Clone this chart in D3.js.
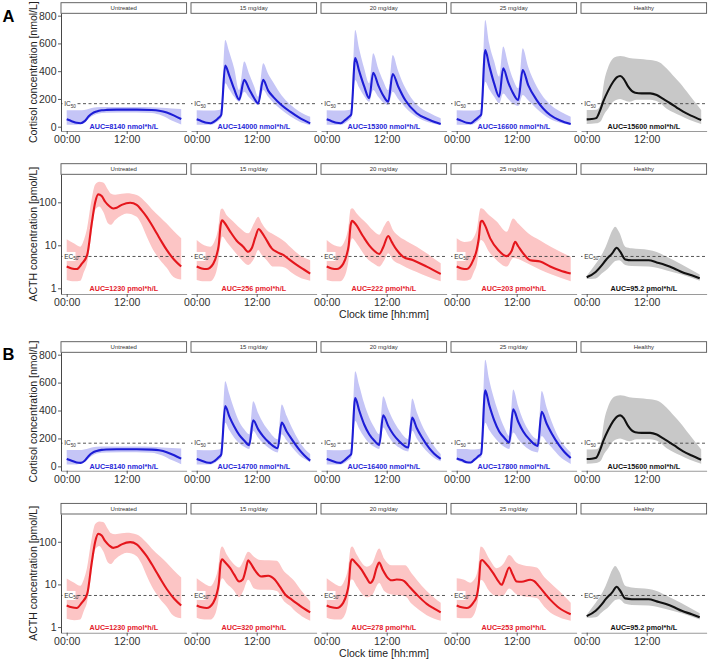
<!DOCTYPE html>
<html><head><meta charset="utf-8">
<script src="https://cdn.jsdelivr.net/npm/d3@7"></script>
<style>html,body{margin:0;padding:0;background:#fff}svg{display:block}</style>
</head><body><svg id="c" width="709" height="661"></svg>
<script>
// ---------------- DATA ----------------
const categories = ["Untreated", "15 mg/day", "20 mg/day", "25 mg/day", "Healthy"];
const xTicks = [0, 12];
const xTickLabels = ["00:00", "12:00"];
const cortTicks = [0, 200, 400, 600, 800];
const acthTicks = [1, 10, 100];
const IC50 = 166;
const EC50 = 5.5;
const aucCortA = ["AUC=8140 nmol*h/L", "AUC=14000 nmol*h/L", "AUC=15300 nmol*h/L", "AUC=16600 nmol*h/L", "AUC=15600 nmol*h/L"];
const aucActhA = ["AUC=1230 pmol*h/L", "AUC=256 pmol*h/L", "AUC=222 pmol*h/L", "AUC=203 pmol*h/L", "AUC=95.2 pmol*h/L"];
const aucCortB = ["AUC=8140 nmol*h/L", "AUC=14700 nmol*h/L", "AUC=16400 nmol*h/L", "AUC=17800 nmol*h/L", "AUC=15600 nmol*h/L"];
const aucActhB = ["AUC=1230 pmol*h/L", "AUC=320 pmol*h/L", "AUC=278 pmol*h/L", "AUC=253 pmol*h/L", "AUC=95.2 pmol*h/L"];

// Cortisol [nmol/L]: line [t, median], band [t, lower, upper]
const cortUntreatedLine = [[0,53],[1,40],[2,28],[2.8,25],[3.6,40],[4.4,75],[5.2,98],[6,110],[7,118],[8,121],[10,123],[14,123],[17,120],[18.5,115],[20,102],[21.5,80],[22.9,55]];
const cortUntreatedBand = [[0,14,118],[2,14,118],[3,22,118],[4,45,124],[5,75,135],[6,92,140],[8,100,142],[14,102,142],[17,98,140],[19,80,136],[21,45,132],[22.9,16,128]];
const cortA15Line = [[0,53],[1,40],[2,28],[2.8,25],[3.6,40],[4.4,65],[4.9,85],[5.7,440],[6.5,370],[7.5,270],[8.5,195],[9.5,337],[10.5,270],[11.5,205],[12.3,168],[13.3,337],[14.3,260],[15.3,215],[17,155],[18.7,108],[20.5,65],[22.7,24]];
const cortA15Band = [[0,14,118],[2.8,14,116],[4.4,45,120],[4.9,60,130],[5.7,313,625],[6.5,270,540],[7.5,215,420],[8.5,180,264],[9.5,252,469],[10.5,210,380],[11.5,175,290],[12.3,156,216],[13.3,265,457],[14.3,215,380],[15.3,175,320],[17,120,225],[18.7,75,160],[20.5,38,110],[22.7,12,72]];
const cortA20Line = [[0,53],[1,40],[2,28],[2.8,25],[3.6,45],[4.4,70],[4.9,88],[5.7,495],[6.5,400],[7.5,290],[8.5,205],[9.3,389],[10.3,300],[11.3,225],[12.3,180],[13.2,380],[14.3,290],[15.7,192],[18,97],[20.5,50],[22.8,19]];
const cortA20Band = [[0,14,118],[2.8,14,116],[4.4,45,120],[4.9,60,130],[5.7,337,697],[6.5,280,560],[7.5,220,420],[8.5,180,313],[9.3,264,529],[10.3,215,420],[11.3,175,330],[12.3,156,264],[13.2,252,517],[14.3,200,400],[15.7,140,280],[18,70,160],[20.5,30,100],[22.8,12,60]];
const cortA25Line = [[0,55],[1,42],[2,28],[2.8,25],[3.6,45],[4.4,70],[4.9,88],[5.7,553],[6.5,440],[7.5,310],[8.5,216],[9.3,421],[10.3,320],[11.3,240],[12.3,192],[13.2,409],[14.3,300],[16,192],[18.7,84],[20.7,45],[22.8,19]];
const cortA25Band = [[0,14,118],[2.8,14,116],[4.4,45,120],[4.9,60,130],[5.7,324,769],[6.5,270,600],[7.5,215,470],[8.5,169,360],[9.3,240,577],[10.3,200,450],[11.3,165,340],[12.3,150,277],[13.2,228,565],[14.3,190,430],[16,130,290],[18.7,55,160],[20.7,28,110],[22.8,12,72]];
const cortB15Line = [[0,53],[1,40],[2,28],[2.8,25],[3.6,40],[4.4,65],[4.9,85],[5.7,432],[6.5,360],[7.5,285],[8.5,225],[9.5,185],[10.5,152],[11.3,330],[12.3,265],[13.3,215],[14.5,170],[16.2,131],[17,313],[18,250],[19,195],[20.5,120],[21.5,80],[22.7,41]];
const cortB15Band = [[0,14,118],[2.8,14,116],[4.4,45,120],[4.9,60,130],[5.7,313,610],[6.5,260,520],[7.5,205,410],[8.5,165,320],[9.5,140,265],[10.5,124,230],[11.3,254,467],[12.3,205,380],[13.3,165,310],[14.5,130,250],[16.2,100,195],[17,230,444],[18,185,360],[19,140,280],[20.5,80,180],[21.5,55,130],[22.7,30,88]];
const cortB20Line = [[0,53],[1,40],[2,28],[2.8,25],[3.6,45],[4.4,70],[4.9,88],[5.7,490],[6.5,400],[7.5,300],[8.5,230],[9.5,185],[10.5,154],[11.3,366],[12.3,290],[13.3,230],[14.5,180],[16.3,135],[17.1,349],[18,275],[19,210],[20.5,130],[21.5,90],[22.8,53]];
const cortB20Band = [[0,14,118],[2.8,14,116],[4.4,45,120],[4.9,60,130],[5.7,325,681],[6.5,270,580],[7.5,210,450],[8.5,165,350],[9.5,140,280],[10.5,124,230],[11.3,278,503],[12.3,220,410],[13.3,170,330],[14.5,135,260],[16.3,107,195],[17.1,255,487],[18,200,390],[19,150,300],[20.5,90,200],[21.5,60,145],[22.8,36,88]];
const cortB25Line = [[0,57],[1,45],[2,30],[2.8,28],[3.6,50],[4.4,75],[4.9,90],[5.7,544],[6.5,440],[7.5,330],[8.5,250],[9.5,205],[10.5,171],[11.3,408],[12.3,320],[13.3,250],[14.5,195],[16.2,147],[17,391],[18,305],[19,235],[20.5,150],[21.5,105],[22.8,60]];
const cortB25Band = [[0,45,124],[2,21,124],[2.8,21,120],[4.4,60,124],[4.9,64,130],[5.7,313,764],[6.5,260,620],[7.5,210,480],[8.5,170,370],[9.5,140,280],[10.5,124,218],[11.3,242,551],[12.3,195,430],[13.3,155,330],[14.5,120,250],[16.2,100,195],[17,218,540],[18,175,420],[19,135,320],[20.5,75,200],[21.5,45,150],[22.8,17,100]];
const cortHealthyLine = [[0,53],[1,55],[1.9,62],[2.7,120],[3.3,180],[4.3,260],[5.3,324],[6,355],[6.7,365],[7.4,345],[8.3,288],[9,258],[9.7,245],[11,240],[12.7,240],[14,228],[15.3,200],[16.7,169],[18,138],[19.3,108],[21,78],[22.9,48]];
const cortHealthyBand = [[0,19,120],[1.9,24,122],[2.8,40,160],[3.5,90,330],[4.2,125,420],[5,170,480],[6,195,505],[6.7,200,510],[7.5,190,505],[8.5,180,495],[10,195,490],[12.7,195,480],[14.5,175,465],[16,130,420],[17.5,100,360],[18.7,80,313],[20.5,50,230],[22.9,19,120]];

// ACTH [pmol/L]
const acthUntreatedLine = [[0,3.2],[1,2.9],[2,2.8],[3,3.7],[4.1,6],[5,32],[5.7,100],[6.3,153],[7,140],[7.7,103],[8.5,82],[9.3,72],[10,75],[11,87],[12.7,98],[14,87],[15,65],[16,46],[17,30],[18,19],[19,12],[20,7.8],[21.5,4.6],[22.9,3.2]];
const acthUntreatedBand = [[0,1.56,13.8],[1.5,1.45,11],[2.7,1.5,9.3],[3.5,2.5,14],[4,3.5,22.6],[5,20,120],[5.7,66,260],[6.5,80,300],[7.3,60,290],[8.3,32,193],[8.8,30,160],[9.7,39,150],[11,50,158],[12,55,162],[14,46,148],[15,30,125],[16,16,95],[17,9,70],[18.7,4.5,45],[20,3,32],[21.3,1.86,22],[22.9,1.6,14.5]];
const acthA15Line = [[0,3.2],[1,2.9],[2,2.8],[3.3,3.7],[4,6],[4.4,10],[4.8,30],[5.1,38],[5.6,33],[6.7,20.8],[8,12.8],[9.3,9.3],[10.3,7.1],[11,8.5],[11.7,15],[12.4,24],[13,20],[13.7,15],[15,8.5],[16,7],[17.3,6],[18.5,4.7],[20,3.5],[21.5,2.7],[22.7,2.2]];
const acthA15Band = [[0,1.56,13.3],[1.5,1.45,10],[2.7,1.45,9.3],[3.5,1.8,12],[4.3,4,25],[4.8,12,68],[5.1,16,72],[6,12,50],[7.3,7.8,36],[8.7,5,25],[10.3,3.5,19],[11.5,5,33],[12.3,7.8,46],[13,6,33],[14,4.5,22.6],[15.3,3.2,18],[16.5,3.2,15],[17.7,3,12],[19,2.3,8.5],[20.5,1.8,6],[22.7,1.5,4.5]];
const acthA20Line = [[0,3.2],[1,2.9],[2,2.8],[3.3,3.7],[4,6],[4.4,10],[4.8,30],[5.1,37],[5.6,33],[7.3,16],[8.5,10],[9.5,7.5],[10.5,6.3],[11.3,9],[12.3,16.5],[13,12],[14,7.8],[15.3,5.4],[17.3,4.5],[20,3.2],[22.8,2.15]];
const acthA20Band = [[0,1.56,13.3],[1.5,1.45,10],[2.7,1.45,9.3],[3.5,1.8,12],[4.3,4,25],[4.8,12,70],[5.1,14.5,73],[6,11,55],[8,5.1,32],[9.3,3.8,22],[10.5,3.2,17.5],[11.5,4.5,28],[12.3,6.5,37],[13.3,4.5,22],[14.5,3.7,16],[16,3,12.5],[18,2.4,9.3],[20,1.9,6.5],[22.8,1.45,3.8]];
const acthA25Line = [[0,3.2],[1,2.9],[2,2.8],[3.3,4.5],[4,7.8],[4.4,14],[4.8,35],[5.1,37],[5.6,30],[6.7,14.5],[8.3,7.8],[10,5.6],[11,7.5],[11.7,12],[12.3,9.5],[13.3,6.5],[14.7,4.5],[16.7,4.2],[18.7,3.2],[20.7,2.6],[22.8,2.2]];
const acthA25Band = [[0,1.56,14.5],[1.5,1.5,12],[2.7,1.6,12.5],[3.5,2.5,16],[4,3.5,22.6],[4.8,13.3,73],[5.1,13,72],[6.5,7,50],[8,4.5,36],[10,3.2,20.8],[11.3,5.1,42],[12.3,4.8,32],[14.3,3.7,19],[16.7,2.7,12.9],[19,2.1,9],[22.8,1.45,5.4]];
const acthB15Line = [[0,3.2],[1,2.9],[2,2.8],[3.3,3.7],[4,6],[4.4,10],[4.8,32],[5.1,39],[5.6,34],[6.7,24],[7.5,17],[8.5,11.7],[9.2,13],[9.8,22],[10.3,37],[10.8,31],[11.7,21],[12.9,15.3],[14.3,16],[15.6,13],[16.6,9],[17.7,5.8],[19,4.4],[20.3,3.4],[21.5,2.7],[22.7,2.2]];
const acthB15Band = [[0,1.65,14],[1.5,1.5,10.5],[2.7,1.5,9],[3.5,1.8,12],[4.3,4,25],[4.8,12,70],[5.1,14,77],[6,10.5,50],[7.3,7.5,31],[8.5,5,25],[9.3,7,35],[10.3,12.9,58],[11.5,8,44],[12.7,7.5,37.5],[14.5,7.5,37],[16,7,36],[17.5,4,20],[18.7,3.1,15],[19.3,2.6,12.9],[21,1.8,7],[22.7,1.4,4]];
const acthB20Line = [[0,3.2],[1,2.9],[2,2.8],[3.3,3.7],[4,6],[4.4,10],[4.8,33],[5.1,39],[5.6,34],[7,22],[8,14],[8.7,10.8],[9.3,13],[10,25],[10.5,32.5],[11.2,22],[12,15.3],[13,12.5],[14,13],[14.7,12.9],[15.5,12],[16.3,9.5],[18,5.8],[20,3.5],[21.5,2.7],[22.8,2.2]];
const acthB20Band = [[0,1.65,14],[1.5,1.5,10.5],[2.7,1.5,9],[3.5,1.8,12],[4.3,4,25],[4.8,12.9,72],[5.1,13,77],[6,9,50],[8,5,26],[9,5.5,30],[10.5,10.8,70],[11.5,7,40],[13,5.8,28],[15.7,5.3,28],[17,3.5,18],[18,2.8,12.9],[20,1.9,7],[22.8,1.4,3.7]];
const acthB25Line = [[0,3.2],[1,2.9],[2,2.8],[3.3,3.7],[4,5.3],[4.4,10],[4.8,35],[5.1,37.5],[5.6,33],[7.3,18.4],[8.2,12.5],[9,9.8],[9.6,14],[10.5,25],[11.2,17],[12,11.7],[13,11.5],[14.7,12.9],[15.5,12],[16.3,9.5],[18.7,4.4],[20.5,2.8],[22.8,2.0]];
const acthB25Band = [[0,1.65,14],[1.5,1.6,12.9],[2.7,1.6,11],[3.5,2,13],[4.3,4.5,25],[4.8,12.9,77],[5.1,12.5,75],[6.5,7,40],[8,5.3,24],[9.3,5.5,30],[10.5,8,49],[12,5.8,32],[13.3,5.3,28],[16,4.8,25],[17.5,3,15],[18.7,2.2,11],[20.5,1.7,7],[22.8,1.4,3.7]];
const acthHealthyLine = [[0,1.8],[1.8,2.4],[3,3.4],[3.8,4.5],[5.1,6.5],[6,8.8],[6.7,7.1],[7.7,4.7],[9,4.5],[12.4,4.5],[14,4],[15.7,3.5],[17.5,2.9],[19,2.4],[21,2],[22.6,1.7]];
const acthHealthyBand = [[0,1.65,1.95],[1.8,1.7,3.7],[3,2.2,6],[3.8,2.6,9.3],[4.4,3,14],[5.1,3.7,22],[5.7,4.3,27],[6.5,4.5,20],[7.7,3.5,9.3],[9,3.3,8.5],[12.4,3.2,7.8],[14,3,7],[16,2.6,5.4],[19,2.1,3.6],[22.6,1.5,2.1]];

// ---------------- LAYOUT ----------------
const FONT = "'Liberation Sans', Arial, Helvetica, sans-serif";
const panelLeft0 = 61, panelStep = 130, panelW = 125.6;
const stripH = 10.6;
const blue = {line: "#1d1dd6", band: "#c5c5f6", text: "#2525d8"};
const red = {line: "#e4161c", band: "#fcc5c5", text: "#e4202a"};
const black = {line: "#111111", band: "#c8c8c8", text: "#111111"};

const rows = [
  {kind: "cort", top: 13.3, bottom: 131, title: "Cortisol concentration [nmol/L]",
   lines: [cortUntreatedLine, cortA15Line, cortA20Line, cortA25Line, cortHealthyLine],
   bands: [cortUntreatedBand, cortA15Band, cortA20Band, cortA25Band, cortHealthyBand], auc: aucCortA, tag: "A"},
  {kind: "acth", top: 174.3, bottom: 294, title: "ACTH concentration [pmol/L]",
   lines: [acthUntreatedLine, acthA15Line, acthA20Line, acthA25Line, acthHealthyLine],
   bands: [acthUntreatedBand, acthA15Band, acthA20Band, acthA25Band, acthHealthyBand], auc: aucActhA, xtitle: true},
  {kind: "cort", top: 352.3, bottom: 470.7, title: "Cortisol concentration [nmol/L]",
   lines: [cortUntreatedLine, cortB15Line, cortB20Line, cortB25Line, cortHealthyLine],
   bands: [cortUntreatedBand, cortB15Band, cortB20Band, cortB25Band, cortHealthyBand], auc: aucCortB, tag: "B"},
  {kind: "acth", top: 514, bottom: 632.7, title: "ACTH concentration [pmol/L]",
   lines: [acthUntreatedLine, acthB15Line, acthB20Line, acthB25Line, acthHealthyLine],
   bands: [acthUntreatedBand, acthB15Band, acthB20Band, acthB25Band, acthHealthyBand], auc: aucActhB, xtitle: true}
];

const svg = d3.select("#c");
const defs = svg.append("defs");
let clipId = 0;

rows.forEach((row, ri) => {
  const y = row.kind === "cort"
    ? d3.scaleLinear().domain([-31, 817]).range([row.bottom, row.top])
    : d3.scaleLog().domain([0.737, 448]).range([row.bottom, row.top]);
  const thr = row.kind === "cort" ? IC50 : EC50;
  const thrLabel = row.kind === "cort" ? "IC" : "EC";

  categories.forEach((cat, ci) => {
    const left = panelLeft0 + ci * panelStep;
    const x = d3.scaleLinear().domain([-1.14, 23.98]).range([left, left + panelW]);
    const col = ci === 4 ? black : (row.kind === "cort" ? blue : red);
    const g = svg.append("g");

    // strip
    g.append("rect").attr("x", left).attr("y", row.top - stripH).attr("width", panelW).attr("height", stripH)
      .attr("fill", "#fff").attr("stroke", "#555").attr("stroke-width", 0.9);
    g.append("text").attr("x", left + panelW / 2).attr("y", row.top - stripH / 2).attr("dy", "0.35em")
      .attr("text-anchor", "middle").attr("font-family", FONT).attr("font-size", 6).attr("fill", "#333").text(cat);

    const id = "clip" + (clipId++);
    defs.append("clipPath").attr("id", id).append("rect")
      .attr("x", left).attr("y", row.top).attr("width", panelW).attr("height", row.bottom - row.top);
    const pg = g.append("g").attr("clip-path", `url(#${id})`);

    const area = d3.area().x(d => x(d[0])).y0(d => y(d[1])).y1(d => y(d[2])).curve(d3.curveMonotoneX);
    pg.append("path").datum(row.bands[ci]).attr("d", area).attr("fill", col.band);

    pg.append("line").attr("x1", left).attr("x2", left + panelW).attr("y1", y(thr)).attr("y2", y(thr))
      .attr("stroke", "#444").attr("stroke-width", 0.9).attr("stroke-dasharray", "3,2.5");

    const line = d3.line().x(d => x(d[0])).y(d => y(d[1])).curve(d3.curveMonotoneX);
    pg.append("path").datum(row.lines[ci]).attr("d", line).attr("fill", "none")
      .attr("stroke", col.line).attr("stroke-width", 2.1).attr("stroke-linejoin", "round");

    // threshold label
    const lbl = g.append("g");
    lbl.append("rect").attr("x", left + 1.5).attr("y", y(thr) - 4.5).attr("width", 13).attr("height", 9).attr("fill", "#fff");
    const t = lbl.append("text").attr("x", left + 3.2).attr("y", y(thr) + 2.3)
      .attr("font-family", FONT).attr("font-size", 6.5).attr("fill", "#333");
    t.append("tspan").text(thrLabel);
    t.append("tspan").attr("font-size", 4.6).attr("dy", 1.6).text("50");

    // AUC label
    g.append("text").attr("x", left + panelW / 2).attr("y", y(row.kind === "cort" ? 0 : 1)).attr("dy", "0.36em")
      .attr("text-anchor", "middle").attr("font-family", FONT).attr("font-size", 7.2).attr("font-weight", "bold")
      .attr("fill", col.text).text(row.auc[ci]);

    // x axis
    const xa = g.append("g").attr("transform", `translate(0,${row.bottom})`)
      .call(d3.axisBottom(x).tickValues(xTicks).tickFormat((d, i) => xTickLabels[i]).tickSize(3).tickSizeOuter(0));
    xa.select(".domain").attr("stroke", "#9a9a9a").attr("stroke-width", 1.1);
    xa.selectAll(".tick line").attr("stroke", "#333").attr("stroke-width", 0.8);
    xa.selectAll(".tick text").attr("font-family", FONT).attr("font-size", 10.5).attr("fill", "#303030").attr("dy", "0.85em").attr("y", 3.5);

    // y axis on first panel
    if (ci === 0) {
      const ya = g.append("g").attr("transform", `translate(${left},0)`)
        .call(d3.axisLeft(y).tickValues(row.kind === "cort" ? cortTicks : acthTicks).tickFormat(d3.format("d")).tickSize(3).tickSizeOuter(0));
      ya.select(".domain").attr("stroke", "#333").attr("stroke-width", 0.9);
      ya.selectAll(".tick line").attr("stroke", "#333").attr("stroke-width", 0.8);
      ya.selectAll(".tick text").attr("font-family", FONT).attr("font-size", 10.5).attr("fill", "#303030").attr("x", -4.5);
    }
  });

  // y title
  svg.append("text").attr("transform", `translate(37,${(row.top + row.bottom) / 2}) rotate(-90)`)
    .attr("text-anchor", "middle").attr("font-family", FONT).attr("font-size", 10.5).attr("fill", "#222").text(row.title);

  if (row.xtitle) {
    svg.append("text").attr("x", 384).attr("y", row.bottom + 24).attr("text-anchor", "middle")
      .attr("font-family", FONT).attr("font-size", 10.5).attr("fill", "#222").text("Clock time [hh:mm]");
  }
  if (row.tag) {
    svg.append("text").attr("x", 2.5).attr("y", row.top + (ri === 0 ? 8.4 : 7.7)).attr("font-family", FONT)
      .attr("font-size", 16.5).attr("font-weight", "bold").attr("fill", "#000").text(row.tag);
  }
});
</script></body></html>
